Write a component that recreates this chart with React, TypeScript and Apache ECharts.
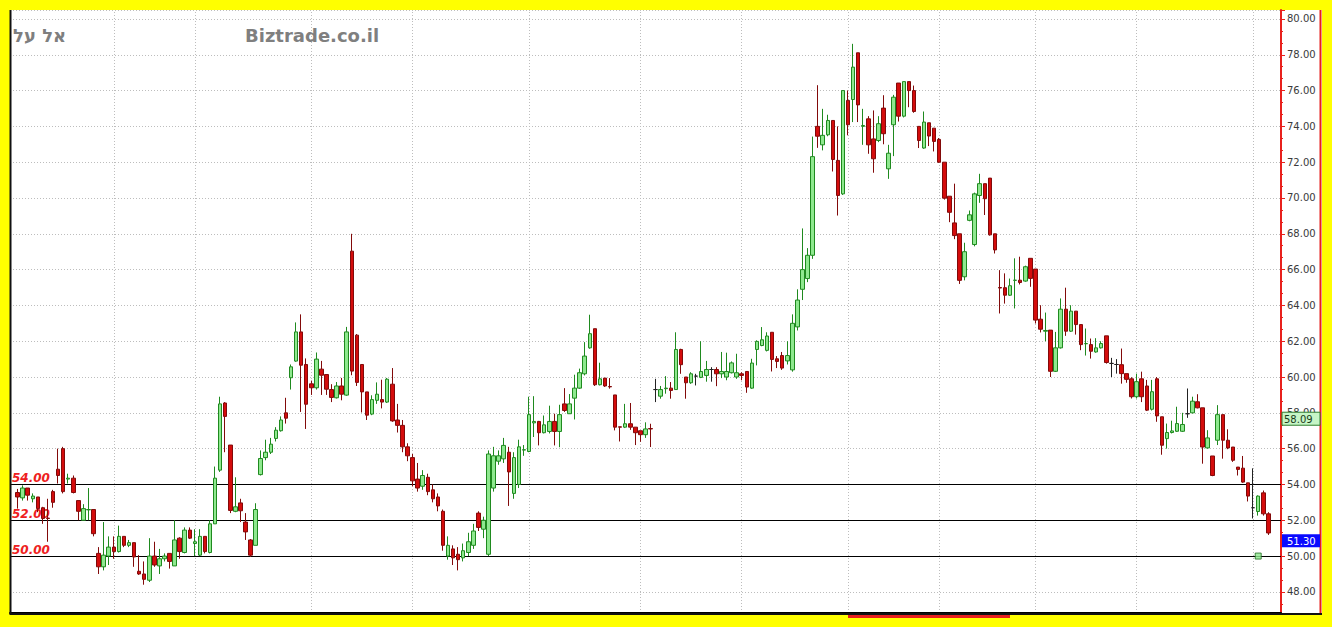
import React, { useEffect, useRef } from "react";
import * as echarts from "echarts";

// Candles as [open, close, low, high], in date order (oldest first)
const candlesA: number[][] = [
  [53.55, 53.3, 52.65, 53.75], [53.25, 53.8, 53.1, 53.95], [53.8, 53.4, 53.1, 53.8], [53.2, 53.35, 53.0, 53.5],
  [53.3, 52.65, 52.45, 53.3], [52.7, 52.1, 51.8, 52.75], [52.12, 52.1, 50.8, 53.2], [53.6, 53.0, 52.7, 53.7],
  [54.85, 54.5, 54.05, 56.0], [56.0, 53.6, 53.5, 56.1], [54.3, 54.35, 54.05, 54.6], [54.35, 53.55, 53.5, 54.5],
  [53.1, 52.5, 52.0, 53.1], [52.0, 52.65, 52.0, 52.9], [52.58, 52.6, 52.0, 53.8], [52.6, 51.25, 51.1, 52.6],
  [50.15, 49.4, 49.0, 50.5], [49.4, 50.05, 49.2, 51.9], [50.0, 50.5, 49.5, 51.1], [50.5, 50.25, 49.85, 51.1],
  [50.25, 51.1, 50.2, 51.7], [51.1, 50.6, 50.5, 51.1], [50.6, 50.75, 50.5, 50.9], [50.75, 49.95, 49.4, 50.75],
  [49.15, 49.0, 48.95, 50.05], [49.0, 48.7, 48.4, 49.7], [48.65, 50.0, 48.55, 51.0], [50.0, 49.5, 49.4, 50.8],
  [49.45, 49.85, 49.0, 50.4], [49.85, 50.0, 49.7, 50.15], [50.15, 49.7, 49.3, 50.15], [49.45, 50.9, 49.45, 52.0],
  [51.0, 50.25, 49.85, 51.05], [50.2, 51.45, 50.15, 51.6], [51.45, 51.0, 50.95, 51.6], [50.7, 50.8, 50.0, 51.5],
  [50.05, 51.1, 50.0, 51.5], [51.1, 50.25, 50.15, 51.1], [50.2, 51.8, 50.15, 52.0], [51.8, 54.35, 51.8, 55.0],
  [54.8, 58.5, 54.7, 58.9], [58.55, 57.8, 55.8, 58.6], [56.2, 52.55, 52.4, 56.2],
];
const candlesB: number[][] = [
  [52.5, 52.75, 52.45, 54.4], [52.97, 52.53, 51.9, 53.2], [51.9, 51.35, 50.9, 52.4], [50.9, 50.05, 49.95, 50.95],
  [50.6, 52.6, 50.6, 52.95], [54.55, 55.45, 54.5, 55.9], [55.5, 55.8, 55.35, 56.5], [55.8, 56.25, 55.7, 56.6],
  [56.57, 57.03, 56.4, 57.2], [57.0, 57.6, 56.95, 57.8], [58.0, 57.7, 57.4, 58.84], [59.96, 60.57, 59.3, 60.7],
  [60.89, 62.52, 60.85, 63.05], [62.52, 60.66, 58.05, 63.5], [60.7, 58.48, 57.1, 61.04], [59.62, 59.4, 59.0, 59.8],
  [59.4, 61.0, 59.3, 61.37], [60.44, 60.1, 59.0, 60.9], [60.14, 59.32, 59.0, 60.14], [59.3, 58.86, 58.6, 59.6],
  [58.84, 59.5, 58.8, 59.72], [59.5, 59.04, 58.7, 59.95], [58.99, 62.52, 58.95, 62.8], [67.03, 60.33, 60.1, 68.0],
  [62.34, 59.7, 59.5, 62.4], [60.7, 59.17, 58.02, 60.7], [59.17, 57.87, 57.6, 59.17], [57.93, 58.74, 57.87, 58.98],
  [58.7, 59.04, 58.5, 59.7], [58.74, 58.6, 58.25, 59.85], [58.6, 59.88, 58.55, 59.95], [59.6, 57.55, 57.5, 60.5],
  [57.6, 57.3, 56.9, 58.5], [57.3, 56.1, 55.8, 57.6],
];
const candlesC: number[][] = [
  [56.1, 55.6, 55.3, 56.3], [55.5, 54.2, 53.9, 55.7], [54.3, 53.8, 53.6, 55.2], [53.9, 54.5, 53.7, 54.8],
  [54.4, 53.6, 53.4, 54.6], [53.7, 53.2, 53.0, 54.0], [53.3, 52.8, 52.5, 53.5], [52.5, 50.6, 50.3, 52.6],
  [50.0, 50.6, 49.8, 51.1], [50.4, 49.9, 49.5, 50.6], [50.1, 49.8, 49.2, 50.5], [49.9, 50.3, 49.7, 50.7],
  [50.2, 50.8, 50.0, 51.3], [50.6, 51.4, 50.4, 51.8], [52.4, 51.6, 51.4, 52.5], [51.5, 52.0, 51.0, 52.2],
  [50.1, 55.7, 50.0, 55.9], [53.8, 55.6, 53.6, 56.1], [55.3, 55.6, 55.1, 55.9], [55.43, 56.18, 55.2, 56.6],
  [55.8, 54.7, 52.8, 56.1], [53.5, 55.5, 53.2, 55.8], [54.0, 56.1, 53.8, 56.5], [55.92, 55.94, 55.6, 56.2],
];
const candlesD: number[][] = [
  [55.84, 57.9, 55.8, 58.9], [57.44, 57.52, 56.65, 58.93], [57.52, 56.89, 56.18, 57.55], [56.89, 57.33, 56.85, 57.85],
  [56.96, 57.52, 56.85, 58.4], [57.52, 56.96, 56.18, 57.95], [56.96, 57.9, 56.08, 58.45], [58.5, 58.13, 58.05, 59.38],
  [57.95, 58.5, 57.95, 59.05], [58.82, 59.38, 57.63, 60.13], [59.38, 60.24, 59.34, 60.47], [60.18, 61.17, 60.09, 61.95],
  [61.63, 62.42, 61.58, 63.48], [62.7, 59.57, 59.5, 62.7], [59.57, 59.9, 59.53, 60.8], [59.94, 59.5, 59.45, 59.94],
  [59.47, 59.45, 59.35, 59.94], [59.0, 57.2, 57.02, 59.0], [57.22, 57.2, 56.4, 57.22], [57.2, 57.39, 57.15, 58.5],
  [57.39, 57.2, 57.05, 58.55], [57.2, 56.89, 56.2, 57.2], [57.0, 56.78, 56.38, 57.0], [56.78, 57.1, 56.6, 57.47],
  [57.12, 57.1, 56.09, 57.39],
];
const candlesE: number[][] = [
  [59.3, 59.3, 58.6, 59.9], [58.93, 59.3, 58.79, 59.5], [59.35, 59.38, 59.07, 60.05], [59.38, 59.25, 58.79, 59.72],
  [59.3, 61.54, 59.3, 62.5], [61.54, 60.69, 60.18, 61.58], [60.0, 59.68, 58.79, 60.0], [59.68, 60.18, 59.62, 60.27],
  [60.05, 60.05, 59.53, 60.18], [59.98, 60.31, 59.94, 62.0], [60.09, 60.42, 59.74, 60.9], [60.42, 60.42, 59.74, 60.55],
  [60.42, 60.18, 59.49, 60.55], [60.18, 60.31, 59.94, 61.4], [60.0, 60.31, 59.82, 61.36], [60.24, 60.79, 60.2, 60.87],
  [60.0, 60.24, 59.9, 61.3], [60.18, 60.09, 59.82, 60.27], [60.31, 59.44, 59.12, 60.31], [59.38, 60.78, 59.34, 61.02],
  [61.54, 61.99, 60.65, 62.05], [61.76, 62.08, 61.72, 62.79], [61.49, 62.29, 61.43, 62.5], [62.5, 60.98, 60.31, 62.5],
  [61.02, 60.87, 60.5, 61.17], [61.2, 60.5, 60.4, 61.4], [60.9, 61.2, 60.7, 62.0], [60.4, 63.0, 60.3, 63.5],
  [62.8, 64.3, 62.6, 64.9], [64.9, 66.0, 64.3, 68.3], [65.5, 66.8, 65.3, 67.2],
];
const candlesF: number[][] = [
  [66.8, 72.31, 66.6, 73.43], [74.0, 73.45, 72.8, 76.3], [72.97, 73.5, 72.66, 74.98], [73.53, 74.33, 73.45, 74.65],
  [74.33, 72.15, 71.48, 74.33], [72.1, 70.14, 69.02, 74.0], [70.23, 76.0, 70.17, 76.0], [75.45, 74.09, 73.5, 76.0],
  [75.5, 77.31, 74.24, 78.61], [78.11, 75.2, 74.24, 78.11], [74.0, 74.05, 72.97, 74.98], [74.42, 72.97, 72.47, 74.57],
  [73.3, 72.19, 71.41, 74.89], [73.21, 74.15, 73.12, 74.57], [75.02, 73.59, 73.0, 75.74], [71.63, 72.5, 71.07, 72.97],
  [74.09, 75.63, 72.34, 75.76], [76.42, 74.57, 74.27, 76.42], [74.57, 76.5, 74.5, 76.5], [76.5, 76.0, 75.07, 76.5],
  [76.0, 74.83, 74.76, 76.28], [74.0, 73.21, 72.79, 74.0], [72.79, 74.24, 72.75, 74.83], [74.2, 73.46, 72.9, 74.2],
  [73.9, 73.16, 72.6, 73.9], [73.27, 72.0, 71.96, 73.35], [72.0, 69.99, 69.91, 72.0], [70.1, 69.2, 68.65, 70.1],
  [68.61, 67.9, 67.7, 70.8], [68.0, 65.4, 65.2, 68.0], [65.6, 67.0, 65.4, 67.5], [68.75, 69.06, 68.7, 69.3],
  [67.4, 70.23, 67.3, 70.3], [70.14, 70.8, 69.73, 71.35], [70.8, 69.96, 69.05, 70.8], [71.11, 67.94, 67.9, 71.11],
  [68.0, 67.1, 66.9, 68.0],
];
const candlesG: number[][] = [
  [65.0, 64.97, 63.55, 65.97], [64.99, 64.57, 64.1, 65.79], [64.57, 65.1, 64.53, 65.5], [65.4, 65.41, 63.83, 66.63],
  [65.41, 65.28, 65.17, 66.72], [65.36, 66.16, 65.32, 66.22], [66.63, 65.51, 65.04, 66.63], [66.03, 63.18, 62.99, 66.03],
  [63.23, 62.67, 62.49, 64.01], [62.56, 62.6, 62.0, 63.6], [62.62, 60.32, 60.0, 62.62], [60.32, 61.63, 60.28, 62.52],
  [61.63, 63.79, 61.59, 64.39], [63.79, 62.56, 62.3, 64.99], [62.56, 63.68, 62.52, 64.01], [63.68, 62.93, 62.37, 63.68],
  [62.93, 61.81, 61.5, 62.93], [61.86, 61.87, 61.2, 62.71], [61.81, 61.44, 61.03, 62.15], [61.4, 61.63, 61.36, 62.17],
  [61.63, 61.87, 61.59, 62.0], [62.3, 60.81, 60.75, 62.3], [60.76, 60.76, 60.0, 61.07], [60.7, 60.7, 60.19, 61.0],
  [60.69, 60.19, 59.63, 61.59], [60.19, 59.87, 59.68, 60.19],
];
const candlesH: number[][] = [
  [59.9, 58.9, 58.8, 59.99], [58.9, 59.74, 58.8, 60.19], [59.9, 58.9, 58.6, 60.3], [59.5, 58.15, 58.1, 59.84],
  [58.2, 59.18, 58.13, 59.84], [59.9, 57.83, 57.5, 60.0], [57.78, 56.19, 55.66, 57.78], [56.56, 56.9, 56.0, 57.4],
  [56.9, 56.99, 56.85, 57.56], [56.97, 57.4, 56.93, 58.34], [56.97, 57.35, 56.93, 58.0], [57.95, 57.95, 57.72, 59.36],
  [58.0, 58.65, 57.97, 58.9], [58.62, 58.28, 58.25, 59.04], [58.28, 56.09, 55.16, 58.28], [56.04, 56.6, 56.0, 57.03],
  [55.59, 54.5, 54.46, 55.59], [56.47, 57.9, 56.2, 58.43], [57.9, 56.47, 55.44, 57.9], [56.47, 56.04, 55.97, 57.08],
  [56.09, 55.35, 55.26, 56.09], [54.97, 54.84, 54.5, 54.97], [54.91, 54.13, 54.09, 55.59], [54.09, 53.35, 53.05, 54.09],
  [52.7, 52.7, 52.1, 54.9], [52.49, 53.35, 52.26, 53.39], [53.53, 52.36, 52.26, 53.66], [52.36, 51.29, 51.18, 52.45],
];

const candles = [
  ...candlesA, ...candlesB, ...candlesC, ...candlesD,
  ...candlesE, ...candlesF, ...candlesG, ...candlesH,
];

// Category slots: one empty slot before the first candle, two after the last
const leadingSlots = 1;
const trailingSlots = 2;
const slotLabels = ["", ...candles.map((_, i) => String(i + 1)), "", ""];

// Month-start slots (vertical dotted grid lines)
const monthStartSlots = [20, 36, 59, 79, 102, 124, 144, 165, 183, 202, 222, 245];

// Horizontal level lines with labels
const levelValues = [54, 52, 50];

// Marker square on the 50 level
const markerSlot = 246;
const markerValue = 50;

// Right-axis value tags
const tagGreenValue = 58.09;
const tagBlueValue = 51.3;

const yMin = 46.82;
const yMax = 80.5;

const titleHebrew = "אל על";
const titleSite = "Biztrade.co.il";

export default function App() {
  const ref = useRef<HTMLDivElement>(null);

  useEffect(() => {
    const el = ref.current;
    if (!el) return;
    const chart = echarts.init(el, null, { renderer: "svg" });

    const empty = ["-", "-", "-", "-"];
    const candleData: any[] = [
      ...Array(leadingSlots).fill(empty),
      ...candles,
      ...Array(trailingSlots).fill(empty),
    ];
    const blank = slotLabels.map(() => "-");

    const option: any = {
      animation: false,
      backgroundColor: "transparent",
      grid: { left: 10, right: 51, top: 10, bottom: 14, containLabel: false },
      xAxis: {
        type: "category",
        data: slotLabels,
        boundaryGap: true,
        axisLine: { show: true, lineStyle: { color: "#000", width: 2 } },
        axisTick: { show: false },
        axisLabel: { show: false },
        splitLine: { show: false },
      },
      yAxis: {
        type: "value",
        position: "right",
        min: yMin,
        max: yMax,
        splitNumber: 17,
        axisLine: { show: true, lineStyle: { color: "#e8201c", width: 2 } },
        axisTick: { show: true, length: 4, lineStyle: { color: "#e8201c", width: 1 } },
        minorTick: { show: true, splitNumber: 3, length: 2, lineStyle: { color: "#e8201c", width: 1 } },
        axisLabel: {
          show: true,
          margin: 6,
          showMinLabel: false,
          showMaxLabel: false,
          color: "#3a3a3a",
          fontSize: 10,
          fontFamily: "DejaVu Sans",
          formatter: (v: number) => v.toFixed(2),
        },
        splitLine: { show: true, lineStyle: { color: "#bdbdbd", width: 1, type: [1, 2] } },
      },
      series: [
        {
          name: "monthGrid",
          type: "line",
          data: blank,
          showSymbol: false,
          silent: true,
          z: 0,
          markLine: {
            silent: true,
            z: 0,
            symbol: ["none", "none"],
            label: { show: false },
            lineStyle: { color: "#bdbdbd", width: 1, type: [1, 2] },
            data: monthStartSlots.map((s) => ({ xAxis: s })),
          },
        },
        {
          name: "levels",
          type: "line",
          data: blank,
          showSymbol: false,
          silent: true,
          z: 1,
          markLine: {
            silent: true,
            z: 1,
            symbol: ["none", "none"],
            lineStyle: { color: "#000", width: 1, type: "solid" },
            label: {
              show: true,
              position: "insideStartTop",
              distance: [2, 0],
              formatter: (p: any) => Number(p.value).toFixed(2),
              color: "#ee2020",
              fontStyle: "italic",
              fontWeight: "bold",
              fontSize: 12,
              fontFamily: "DejaVu Sans",
            },
            data: levelValues.map((v) => ({ yAxis: v })),
          },
        },
        {
          name: "price",
          type: "candlestick",
          data: candleData,
          barWidth: 4,
          z: 2,
          itemStyle: {
            color: "#8fe88f",
            color0: "#d40c0c",
            borderColor: "#1f8a1f",
            borderColor0: "#820a0a",
            borderColorDoji: "#222",
            borderWidth: 1,
          },
        },
        {
          name: "marker",
          type: "scatter",
          data: [[markerSlot, markerValue]],
          symbol: "rect",
          symbolSize: 6,
          z: 3,
          itemStyle: { color: "#8fe88f", borderColor: "#1f6a1f", borderWidth: 1 },
        },
      ],
    };

    chart.setOption(option);

    const yPix = (v: number) => chart.convertToPixel({ yAxisIndex: 0 }, v) as number;
    const gTop = yPix(tagGreenValue) + 1;
    const bTop = yPix(tagBlueValue) + 1.5;

    chart.setOption({
      graphic: [
        {
          type: "text",
          x: 13,
          y: 35,
          z: 10,
          style: {
            text: titleHebrew,
            fill: "#7f7f7f",
            fontSize: 18,
            fontWeight: "bold",
            fontFamily: "DejaVu Sans",
            textAlign: "left",
            textVerticalAlign: "middle",
          },
        },
        {
          type: "text",
          x: 245,
          y: 35,
          z: 10,
          style: {
            text: titleSite,
            fill: "#7f7f7f",
            fontSize: 18,
            fontWeight: "bold",
            fontFamily: "DejaVu Sans",
            textAlign: "left",
            textVerticalAlign: "middle",
          },
        },
        {
          type: "line",
          z: 10,
          shape: { x1: 10.5, y1: 10, x2: 10.5, y2: 615 },
          style: { stroke: "#111", lineWidth: 2 },
        },
        {
          type: "line",
          z: 10,
          shape: { x1: 1320.5, y1: 10, x2: 1320.5, y2: 614 },
          style: { stroke: "#e8201c", lineWidth: 2 },
        },
        {
          type: "line",
          z: 10,
          shape: { x1: 10, y1: 614, x2: 1322, y2: 614 },
          style: { stroke: "#111", lineWidth: 2 },
        },
        {
          type: "rect",
          z: 10,
          shape: { x: 848, y: 615, width: 162, height: 3 },
          style: { fill: "#e8201c" },
        },
        {
          type: "rect",
          z: 10,
          shape: { x: 1282, y: gTop, width: 38, height: 13 },
          style: { fill: "#c6f5c6", stroke: "#2e7d2e", lineWidth: 1 },
        },
        {
          type: "text",
          z: 11,
          x: 1284,
          y: gTop + 7,
          style: {
            text: tagGreenValue.toFixed(2),
            fill: "#1a3a1a",
            fontSize: 10,
            fontFamily: "DejaVu Sans",
            textAlign: "left",
            textVerticalAlign: "middle",
          },
        },
        {
          type: "rect",
          z: 10,
          shape: { x: 1282, y: bTop, width: 38, height: 13 },
          style: { fill: "#0a0aff" },
        },
        {
          type: "text",
          z: 11,
          x: 1287,
          y: bTop + 7,
          style: {
            text: tagBlueValue.toFixed(2),
            fill: "#ffffff",
            fontSize: 10,
            fontFamily: "DejaVu Sans",
            textAlign: "left",
            textVerticalAlign: "middle",
          },
        },
      ],
    });

    return () => {
      chart.dispose();
    };
  }, []);

  return (
    <div style={{ position: "fixed", left: 0, top: 0, width: 1332, height: 627, background: "#ffff00", overflow: "hidden" }}>
      <div style={{ position: "absolute", left: 10, top: 10, width: 1312, height: 605, background: "#ffffff" }} />
      <div ref={ref} style={{ position: "absolute", left: 0, top: 0, width: 1332, height: 627 }} />
    </div>
  );
}
